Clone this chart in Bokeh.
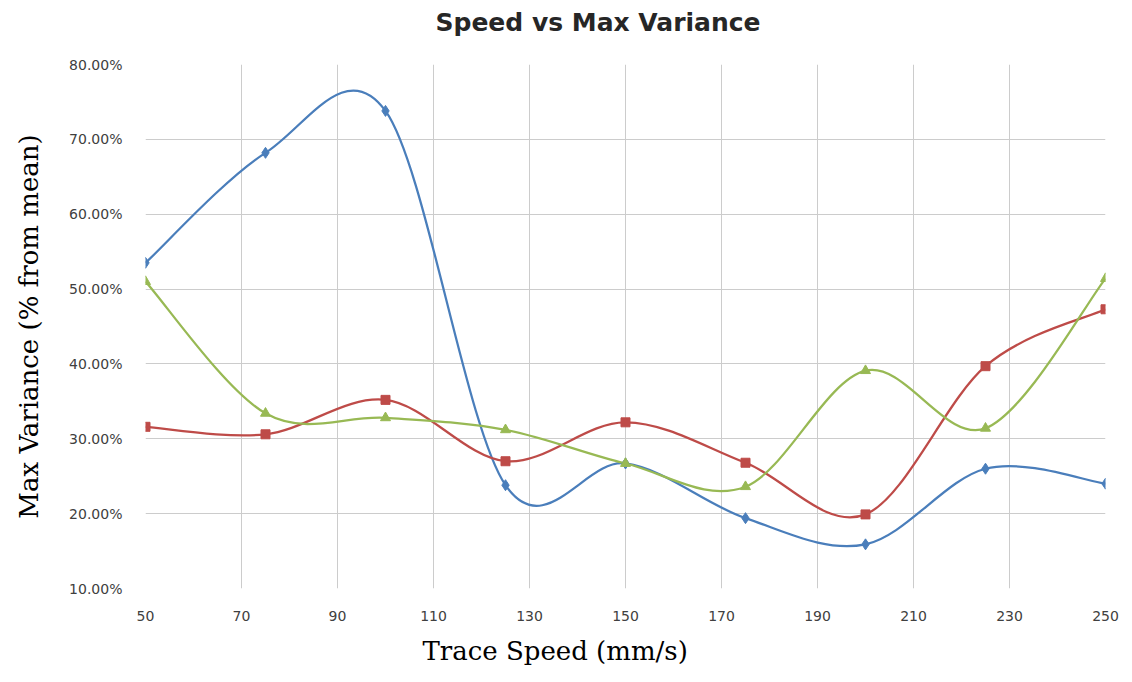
from bokeh.plotting import figure
from bokeh.models import Range1d, NumeralTickFormatter, FixedTicker, Title
from bokeh.embed import file_html
from bokeh.resources import INLINE

# ---- data ----
speeds = [50, 75, 100, 125, 150, 175, 200, 225, 250]
series_a = [0.535, 0.682, 0.738, 0.238, 0.267, 0.194, 0.159, 0.260, 0.240]   # blue, diamonds
series_b = [0.316, 0.306, 0.352, 0.270, 0.322, 0.268, 0.199, 0.397, 0.473]   # red, squares
series_c = [0.510, 0.334, 0.328, 0.312, 0.267, 0.236, 0.391, 0.314, 0.514]   # green, triangles
x_ticks = [50, 70, 90, 110, 130, 150, 170, 190, 210, 230, 250]
y_ticks = [0.1, 0.2, 0.3, 0.4, 0.5, 0.6, 0.7, 0.8]
title_text = "Speed vs Max Variance"
x_title = "Trace Speed (mm/s)"
y_title = "Max Variance (% from mean)"

W, H = 1132, 682
p = figure(width=W, height=H, output_backend="svg", toolbar_location=None,
           x_range=Range1d(50, 250), y_range=Range1d(0.1, 0.8),
           min_border_left=145, min_border_right=27, min_border_top=63, min_border_bottom=94)
p.background_fill_color = "white"
p.border_fill_color = "white"
p.outline_line_color = None

for ax in (p.xaxis, p.yaxis):
    ax.axis_line_color = None
    ax.major_tick_line_color = None
    ax.minor_tick_line_color = None
    ax.major_label_text_font = "DejaVu Sans"
    ax.major_label_text_font_size = "14px"
    ax.major_label_text_color = "#404040"
p.xaxis.ticker = FixedTicker(ticks=x_ticks)
p.yaxis.ticker = FixedTicker(ticks=y_ticks)
p.yaxis.formatter = NumeralTickFormatter(format="0.00%")
p.xaxis.major_label_standoff = 16
p.yaxis.major_label_standoff = 17
p.yaxis.axis_label = y_title
p.yaxis.axis_label_text_font = "DejaVu Serif"
p.yaxis.axis_label_text_font_size = "26px"
p.yaxis.axis_label_text_font_style = "normal"
p.yaxis.axis_label_text_color = "black"
p.yaxis.axis_label_standoff = 22
p.xgrid.grid_line_color = "#cccccc"
p.ygrid.grid_line_color = "#cccccc"
p.xgrid.grid_line_width = 1
p.ygrid.grid_line_width = 1


def smooth(xs, ys):
    """Bezier control points of a Catmull-Rom style smoothed line (Excel-like)."""
    n = len(xs)
    out = dict(x0=[], y0=[], x1=[], y1=[], cx0=[], cy0=[], cx1=[], cy1=[])
    for i in range(n - 1):
        im = max(i - 1, 0)
        ip = min(i + 2, n - 1)
        out["x0"].append(xs[i]); out["y0"].append(ys[i])
        out["x1"].append(xs[i + 1]); out["y1"].append(ys[i + 1])
        out["cx0"].append(xs[i] + (xs[i + 1] - xs[im]) / 6)
        out["cy0"].append(ys[i] + (ys[i + 1] - ys[im]) / 6)
        out["cx1"].append(xs[i + 1] - (xs[ip] - xs[i]) / 6)
        out["cy1"].append(ys[i + 1] - (ys[ip] - ys[i]) / 6)
    return out


specs = [
    (series_a, "#4a7ebb", "diamond", 11),
    (series_b, "#be4b48", "square", 9),
    (series_c, "#98b954", "triangle", 10),
]
for ys, col, marker, size in specs:
    p.bezier(line_color=col, line_width=2.25, **smooth(speeds, ys))
for ys, col, marker, size in specs:
    p.scatter(speeds, ys, marker=marker, size=size, fill_color=col, line_color=col)

# spacer between frame and title, then the title itself
p.add_layout(Title(text=" ", text_font_size="1px", standoff=20), "above")
p.add_layout(Title(text=title_text, align="left", offset=290, standoff=10,
                   text_font="DejaVu Sans", text_font_style="bold",
                   text_font_size="25px", text_color="#262626"), "above")

# x-axis title
p.add_layout(Title(text=x_title, align="left", offset=277, standoff=20,
                   text_font="DejaVu Serif", text_font_style="normal",
                   text_font_size="26px", text_color="black"), "below")

open("out.html", "w").write(file_html(p, INLINE))
